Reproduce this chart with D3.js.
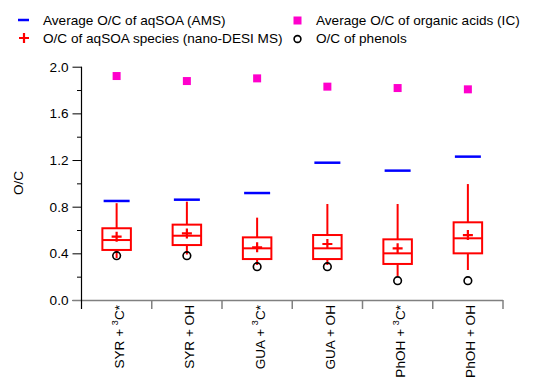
<!DOCTYPE html>
<html><head><meta charset="utf-8">
<script src="https://cdn.jsdelivr.net/npm/d3@7"></script>
<style>body{margin:0;background:#fff}svg{display:block;font-family:"Liberation Sans",Arial,sans-serif}</style>
</head><body>
<svg id="c" width="541" height="381"></svg>
<script>
const categories = [
  {main:"SYR + ", sup:"3", tail:"C*"},
  {main:"SYR + OH", sup:"", tail:""},
  {main:"GUA + ", sup:"3", tail:"C*"},
  {main:"GUA + OH", sup:"", tail:""},
  {main:"PhOH + ", sup:"3", tail:"C*"},
  {main:"PhOH + OH", sup:"", tail:""}
];
const whiskerLow  = [0.36, 0.39, 0.30, 0.30, 0.206, 0.257];
const boxQ1       = [0.429, 0.471, 0.351, 0.351, 0.309, 0.40];
const boxMedian   = [0.514, 0.551, 0.443, 0.443, 0.40, 0.529];
const boxQ3       = [0.615, 0.646, 0.537, 0.557, 0.52, 0.666];
const whiskerHigh = [0.83, 0.843, 0.706, 0.823, 0.823, 0.994];
const meanOC      = [0.543, 0.571, 0.452, 0.48, 0.443, 0.557];
const amsOC       = [0.849, 0.86, 0.917, 1.177, 1.109, 1.229];
const acidsOC     = [1.92, 1.877, 1.90, 1.829, 1.817, 1.806];
const phenolOC    = [0.38, 0.38, 0.286, 0.286, 0.166, 0.166];
const yMajorTicks = [0.0, 0.4, 0.8, 1.2, 1.6, 2.0];
const yMinorTicks = [0.2, 0.6, 1.0, 1.4, 1.8];

const svg = d3.select("#c");
const FS = 13.6;
const idx = d3.range(categories.length);
const x = d3.scaleBand().domain(idx).range([81.5, 503]).paddingInner(0).paddingOuter(0);
const y = d3.scaleLinear().domain([0, 2]).range([300, 66.7]);
const cx = i => x(i) + x.bandwidth()/2;

// y axis
const yAxis = svg.append("g").attr("transform","translate(81.5,0)")
  .call(d3.axisLeft(y).tickValues(yMajorTicks).tickSize(9).tickPadding(4).tickFormat(d3.format(".1f")));
yAxis.select(".domain").remove();
yAxis.selectAll("line").attr("stroke","#000").attr("stroke-width",1);
yAxis.selectAll("text").attr("font-size",FS).attr("fill","#000").attr("font-family","Liberation Sans, Arial, sans-serif");
const yMinor = svg.append("g").attr("transform","translate(81.5,0)")
  .call(d3.axisLeft(y).tickValues(yMinorTicks).tickSize(4.5).tickFormat(""));
yMinor.select(".domain").remove();
yMinor.selectAll("line").attr("stroke","#000");

// x axis
const xAxisG = svg.append("g");
xAxisG.append("line").attr("x1",72.5).attr("x2",503).attr("y1",300.5).attr("y2",300.5)
  .attr("stroke","#808080").attr("stroke-width",1.5);
const bounds = idx.map(i => x(i)).concat([x(idx.length-1)+x.bandwidth()]);
xAxisG.selectAll("line.tk").data(bounds.slice(1)).join("line").attr("class","tk")
  .attr("x1",d=>d).attr("x2",d=>d).attr("y1",300).attr("y2",309)
  .attr("stroke","#808080").attr("stroke-width",1.5);
// y domain line (black, extends below)
svg.append("line").attr("x1",81.5).attr("x2",81.5).attr("y1",y(2)).attr("y2",309)
  .attr("stroke","#000").attr("stroke-width",1.2);

// x labels
const lab = svg.append("g").selectAll("text").data(categories).join("text")
  .attr("transform",(d,i)=>`translate(${cx(i)+7.5},305) rotate(-90)`)
  .attr("text-anchor","end").attr("font-size",FS).attr("fill","#000");
lab.append("tspan").text(d=>d.main);
lab.filter(d=>d.sup).append("tspan").attr("font-size",9).attr("dy",-6.5).text(d=>d.sup);
lab.filter(d=>d.sup).append("tspan").attr("dy",6.5).text(d=>d.tail);

// y title
svg.append("text").attr("transform","translate(23,183) rotate(-90)").attr("text-anchor","middle")
  .attr("font-size",FS).text("O/C");

const red = "#ff0000", blue = "#0000ff", mag = "#ff00cc";
const bw = 28.5;
const g = svg.append("g");
idx.forEach(i => {
  const c = cx(i);
  // whiskers
  g.append("line").attr("x1",c).attr("x2",c).attr("y1",y(boxQ3[i])).attr("y2",y(whiskerHigh[i])).attr("stroke",red).attr("stroke-width",2);
  g.append("line").attr("x1",c).attr("x2",c).attr("y1",y(boxQ1[i])).attr("y2",y(whiskerLow[i])).attr("stroke",red).attr("stroke-width",2);
  g.append("rect").attr("x",c-bw/2).attr("y",y(boxQ3[i])).attr("width",bw).attr("height",y(boxQ1[i])-y(boxQ3[i]))
    .attr("fill","none").attr("stroke",red).attr("stroke-width",2);
  g.append("line").attr("x1",c-bw/2).attr("x2",c+bw/2).attr("y1",y(boxMedian[i])).attr("y2",y(boxMedian[i])).attr("stroke",red).attr("stroke-width",2);
  // mean plus
  const my = y(meanOC[i]);
  g.append("path").attr("d",`M${c-5},${my}H${c+5}M${c},${my-5}V${my+5}`).attr("stroke",red).attr("stroke-width",2.2);
  // AMS
  g.append("line").attr("x1",c-13).attr("x2",c+13).attr("y1",y(amsOC[i])).attr("y2",y(amsOC[i])).attr("stroke",blue).attr("stroke-width",2.5);
  // acids
  g.append("rect").attr("x",c-4).attr("y",y(acidsOC[i])-4).attr("width",8).attr("height",8).attr("fill",mag);
  // phenols
  g.append("circle").attr("cx",c).attr("cy",y(phenolOC[i])).attr("r",3.8).attr("fill","none").attr("stroke","#000").attr("stroke-width",1.6);
});

// legend
const L = svg.append("g").attr("font-size",FS);
L.append("line").attr("x1",18).attr("x2",29).attr("y1",20).attr("y2",20).attr("stroke",blue).attr("stroke-width",2.5);
L.append("text").attr("x",43).attr("y",24.8).text("Average O/C of aqSOA (AMS)");
L.append("path").attr("d","M19,38H29M24,33V43").attr("stroke",red).attr("stroke-width",2.2);
L.append("text").attr("x",43).attr("y",42.6).text("O/C of aqSOA species (nano-DESI MS)");
L.append("rect").attr("x",293.5).attr("y",16.5).attr("width",8).attr("height",8).attr("fill",mag);
L.append("text").attr("x",316).attr("y",24.8).text("Average O/C of organic acids (IC)");
L.append("circle").attr("cx",297.5).attr("cy",39).attr("r",3.4).attr("fill","none").attr("stroke","#000").attr("stroke-width",1.6);
L.append("text").attr("x",316).attr("y",42.6).text("O/C of phenols");
</script>
</body></html>
